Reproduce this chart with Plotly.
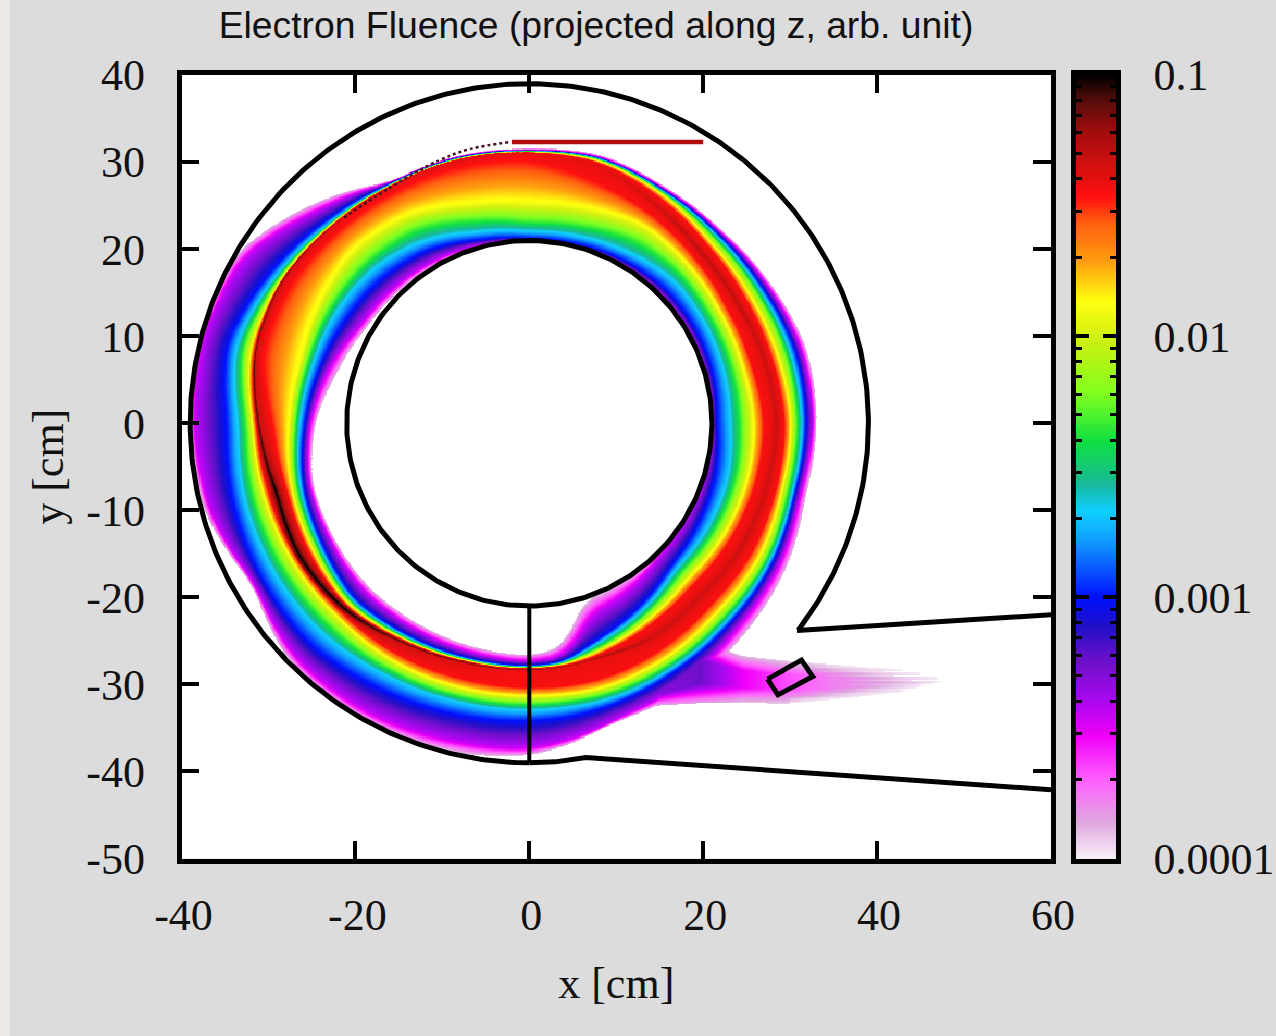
import numpy as np
import plotly.graph_objects as go

# ---------- values ----------
TITLE = "Electron Fluence (projected along z, arb. unit)"
X_TICKS = [-40, -20, 0, 20, 40, 60]
Y_TICKS = [-50, -40, -30, -20, -10, 0, 10, 20, 30, 40]
CB_TICKS = [0.0001, 0.001, 0.01, 0.1]
CB_LABELS = ["0.0001", "0.001", "0.01", "0.1"]

# colour scale: position along log10 range -> colour
CM_POS = [0.0, 0.046, 0.10, 0.156, 0.203, 0.254, 0.297, 0.333, 0.407, 0.444, 0.478, 0.533, 0.593, 0.664, 0.711, 0.76, 0.81, 0.845, 0.887, 0.929, 0.97, 1.0]
CM_COL = ["#f8f0f8", "#dfa8df", "#ff60ff", "#f000f8", "#a808f0", "#6a10c8", "#2010c8", "#0010ff", "#10a0ff",
          "#10d0ff", "#18b898", "#10e040", "#80ff20", "#d0f010", "#ffff10", "#ffa010", "#ff6010", "#ff1010",
          "#d01010", "#a00c0c", "#500c0c", "#000000"]

# radial profile of the band, per polar angle (deg): radius (cm) where each colour is reached
ANGLE = [0, 15, 30, 45, 60, 75, 90, 105, 120, 135, 150, 165, 180, 195, 210, 225, 240, 255, 270, 278, 283, 288, 300, 315, 330, 345]
IN_EDGE = [20.7, 20.7, 20.8, 20.9, 20.9, 20.9, 20.9, 21, 21.1, 21.3, 21.7, 22.8, 24.6, 25.8, 26, 26.3, 26.3, 26.4, 26.6, 25.9, 23, 21.2, 21, 20.9, 20.8, 20.7]
IN_MAG = [20.9, 20.9, 21, 21, 21, 21, 21, 21.2, 21.6, 22, 22.4, 23.9, 25.2, 26.2, 26.5, 27, 27, 27.1, 27.3, 27, 25, 23, 22.3, 21.3, 21, 20.9]
IN_BLUE = [21.5, 21.8, 21.9, 21.9, 21.6, 21.3, 21.2, 21.8, 23, 23.7, 24.2, 24.9, 25.8, 26.9, 27.5, 28.4, 28, 27.8, 27.8, 27.6, 26.6, 25.9, 24.6, 23, 22.5, 22.1]
IN_CYAN = [23, 23.1, 23.2, 23.3, 22.6, 22.2, 22, 22.7, 24.2, 25.2, 25.6, 25.8, 26.4, 27.3, 27.9, 28.8, 28.25, 27.95, 27.9, 27.75, 27, 26.3, 25.2, 23.7, 23.7, 23.6]
IN_GREEN = [24.4, 24.3, 24.3, 24.6, 24.5, 23.6, 23.2, 24.3, 26, 26.5, 26.6, 26.5, 26.9, 27.8, 28.3, 29.1, 28.45, 28.05, 28, 27.85, 27.3, 26.9, 25.8, 24.5, 24.7, 24.7]
IN_YELLOW = [25.7, 25.3, 25.3, 25.7, 26.2, 25.5, 25.2, 26, 27.7, 28.4, 27.8, 27.2, 27.6, 28.3, 28.8, 29.4, 28.6, 28.15, 28.05, 27.95, 27.6, 27.2, 26.4, 25.4, 25.7, 25.8]
IN_RED = [27, 26.4, 26.3, 26.9, 27.8, 28.8, 30.3, 30.6, 30.8, 31.2, 31.8, 31.8, 29.5, 28.9, 29.3, 29.7, 28.75, 28.25, 28.1, 28.05, 27.9, 27.6, 27, 26.4, 26.7, 26.9]
PEAK_R = [28.4, 28, 27.6, 27.8, 29, 30.6, 31, 31.2, 31.4, 32, 32.8, 32.6, 31.1, 30.1, 30.5, 30.1, 29, 28.4, 28.3, 28.2, 28.1, 28, 28.4, 27.9, 28.2, 28.2]
PEAK_HALF = [.5, .5, .5, .5, .4, .15, .05, .05, .05, .05, .1, .1, .2, .4, .45, .35, .15, .15, .1, .1, .1, .2, .5, .5, .5, .5]
PEAK_F = [.89, .89, .9, .9, .89, .87, .87, .88, .9, .95, .96, .97, .97, 1, 1, 1, .97, .95, .93, .92, .92, .92, .89, .89, .89, .89]
OUT_RED = [29.3, 28.8, 28.6, 28.9, 29.9, 31, 31.1, 31.4, 31.6, 32.15, 32.95, 32.75, 31.35, 31, 30.95, 30.6, 30.5, 30.3, 30.3, 30.4, 30.4, 30.4, 30, 29.4, 29.5, 29.3]
OUT_YELLOW = [30.1, 29.6, 29.3, 29.4, 30.4, 31.2, 31.15, 31.45, 31.65, 32.25, 33, 33.2, 31.8, 31.6, 31.5, 31.3, 31.5, 31.4, 31.3, 31.4, 31.5, 31.5, 31.2, 30.6, 30.6, 30]
OUT_GREEN = [30.7, 30.5, 30.1, 30, 30.6, 31.35, 31.2, 31.5, 31.7, 32.35, 33.3, 34, 32.4, 32.7, 32.7, 32.5, 32.4, 32.2, 32.1, 32.1, 32.2, 32.2, 31.9, 31.4, 31.3, 30.6]
OUT_CYAN = [31.3, 31.1, 30.6, 30.4, 30.75, 31.45, 31.25, 31.55, 31.75, 32.5, 33.7, 34.9, 33.5, 33.9, 34, 33.9, 33.3, 33, 32.9, 32.9, 32.9, 32.9, 32.5, 32, 31.8, 31.2]
OUT_BLUE = [31.8, 31.7, 31, 30.7, 30.9, 31.55, 31.3, 31.6, 31.8, 33, 34.5, 36, 34.8, 35.3, 35.6, 35.8, 35, 34.5, 34.2, 34, 33.8, 33.6, 33, 32.5, 32.2, 31.5]
OUT_MAG = [32.6, 32.4, 31.6, 31, 31.05, 31.65, 31.35, 31.7, 31.9, 34.5, 38, 38.7, 38.5, 38, 36.5, 38, 38, 37.5, 37.3, 36.5, 35.8, 35.2, 34.7, 33.5, 33, 32.1]
OUT_EDGE = [33, 33, 32, 31.3, 31.3, 31.9, 31.5, 31.8, 32, 35.5, 39, 39, 39, 38.7, 36.8, 38.9, 39, 38.8, 38.1, 37, 36, 35.6, 35.5, 34.6, 33.9, 32.8]
LEVEL_IN = [0.03, 0.18, 0.33, 0.44, 0.57, 0.70, 0.85]
LEVEL_OUT = [0.85, 0.70, 0.57, 0.44, 0.33, 0.18, 0.03]

# escaping beam (magenta plume on the right)
BEAM_X = [13, 19.6, 24.5, 29, 35, 42.5, 47.5]
BEAM_TOP = [-29.5, -25, -26.7, -27.2, -27.7, -28.2, -29]
BEAM_BOT = [-32.5, -32.1, -32, -32.2, -31.7, -30.9, -29.6]
BEAM_F = [0.22, 0.25, 0.16, 0.115, 0.075, 0.045, 0.02]
# where each thin streak of the plume ends, per row of y
STREAK_Y = [-27.25, -27.5, -27.75, -28, -28.25, -28.5, -28.75, -29, -29.25, -29.5, -29.75, -30, -30.25, -30.5, -30.75, -31, -31.25, -31.5, -31.75, -32]
STREAK_END = [36, 38, 41, 39, 43, 41, 45, 42, 47, 44, 49, 45, 47, 43, 45, 41, 42, 38, 36, 33]

# vessel outline (cm)
INNER_R = 21
OUTER_R = 39
OUTER_ARC_DEG = [-37.6, 270]
DIVIDER_X = [0, 0]
DIVIDER_Y = [-21, -39]
BOTTOM_X = [0, 3, 6.5, 60]
BOTTOM_Y = [-39, -38.9, -38.4, -42.1]
UPPER_X = [30.8, 60]
UPPER_Y = [-23.8, -22]
BOX_X = [27.4, 31.3, 32.6, 28.6, 27.4]
BOX_Y = [-29.4, -27.2, -29.1, -31.2, -29.4]
RED_X = [-2, 20]
RED_Y = [32.3, 32.3]
SPECK_X = [-21.3, -16.3, -10.6, -6.8, -2.2]
SPECK_Y = [23.6, 26.9, 30.1, 31.5, 32.3]

# ---------- building the field from those tables ----------
colorscale = [[p, c] for p, c in zip(CM_POS, CM_COL)]
peak_r = np.array(PEAK_R, float)
half = np.array(PEAK_HALF, float)
radii = np.array([IN_EDGE, IN_MAG, IN_BLUE, IN_CYAN, IN_GREEN, IN_YELLOW, IN_RED, peak_r - half, peak_r, peak_r + half,
                  OUT_RED, OUT_YELLOW, OUT_GREEN, OUT_CYAN, OUT_BLUE, OUT_MAG, OUT_EDGE], float)
peak = np.array(PEAK_F)
ang = np.array(ANGLE + [360.0])
radii = np.hstack([radii, radii[:, :1]])
peak = np.append(peak, peak[0])

step = 0.125
gx = np.arange(-40, 60 + step / 2, step)
gy = np.arange(-50, 40 + step / 2, step)
X, Y = np.meshgrid(gx, gy)
R = np.hypot(X, Y)
T = np.degrees(np.arctan2(Y, X)) % 360

n_t, n_r = 1440, 1280
rgrid = np.linspace(0, 40, n_r)
tgrid = np.arange(n_t) * 360 / n_t
tab = np.array([np.interp(tgrid, ang, radii[k]) for k in range(radii.shape[0])])
pk = np.interp(tgrid, ang, peak)
# round the 15-degree table corners so the band stays a smooth curve
win = 28
kernel = np.ones(win) / win
tab = np.array([np.convolve(np.r_[row[-win:], row, row[:win]], kernel, mode="same")[win:-win] for row in tab])
lut = np.full((n_t + 1, n_r), np.nan)
for i in range(n_t):
    rs = np.maximum.accumulate(tab[:, i] + np.arange(tab.shape[0]) * 1e-4)
    p = max(pk[i], 0.87)
    shoulder = 0.865 if p < 0.93 else p - 0.08
    fs = np.array(LEVEL_IN + [shoulder, p, shoulder] + LEVEL_OUT)
    lut[i] = np.interp(rgrid, rs, fs, left=np.nan, right=np.nan)
lut[n_t] = lut[0]

field = lut[np.round(T / 360 * n_t).astype(int), np.clip(np.round(R / 40 * (n_r - 1)).astype(int), 0, n_r - 1)]
field[(R < INNER_R - 0.2) | (R > OUTER_R + 0.1)] = np.nan

# plume
bt = np.interp(X, BEAM_X, BEAM_TOP)
bb = np.interp(X, BEAM_X, BEAM_BOT)
bf = np.interp(X, BEAM_X, BEAM_F)
c = (bt + bb) / 2
hw = (bt - bb) / 2
u = 1 - np.abs(Y - c) / hw
row_end = np.array(STREAK_END, float)[np.clip(np.round((Y - STREAK_Y[0]) / (STREAK_Y[1] - STREAK_Y[0])).astype(int), 0, len(STREAK_END) - 1)]
fade = np.clip((row_end - X) / 9, 0, 1)
fade = np.where(X < 30, 1.0, fade)
plume = np.where((u > 0) & (X >= BEAM_X[0]) & (fade > 0), bf * (0.2 + 0.8 * np.clip(u * 1.6, 0, 1)) * (0.25 + 0.75 * fade), np.nan)
field = np.fmax(field, plume)
Z = np.round(-4 + 3 * field, 3)

# ---------- figure ----------
W, H = 1276, 1036
PX0, PX1, PY0, PY1 = 181.5, 1051, 75, 858.5
CX0, CX1 = 1076, 1116
dom_y = [1 - PY1 / H, 1 - PY0 / H]
serif = "Liberation Serif, Times New Roman, serif"
BLACK = "#000000"
TXT = "#111111"

fig = go.Figure()
fig.add_trace(go.Heatmap(x=gx, y=gy, z=Z, zmin=-4, zmax=-1, colorscale=colorscale, showscale=False,
                         hoverongaps=False, name="Fluence"))

ai = np.radians(np.linspace(0, 360, 361))
fig.add_trace(go.Scatter(x=INNER_R * np.cos(ai), y=INNER_R * np.sin(ai), mode="lines", line=dict(color=BLACK, width=5)))
ao = np.radians(np.linspace(OUTER_ARC_DEG[0], OUTER_ARC_DEG[1], 400))
ox = list(UPPER_X[::-1]) + list(OUTER_R * np.cos(ao))
oy = list(UPPER_Y[::-1]) + list(OUTER_R * np.sin(ao))
fig.add_trace(go.Scatter(x=ox, y=oy, mode="lines", line=dict(color=BLACK, width=5)))
fig.add_trace(go.Scatter(x=BOTTOM_X, y=BOTTOM_Y, mode="lines", line=dict(color=BLACK, width=5)))
fig.add_trace(go.Scatter(x=DIVIDER_X, y=DIVIDER_Y, mode="lines", line=dict(color=BLACK, width=4)))
fig.add_trace(go.Scatter(x=BOX_X, y=BOX_Y, mode="lines", line=dict(color=BLACK, width=5)))
fig.add_trace(go.Scatter(x=RED_X, y=RED_Y, mode="lines", line=dict(color="#b00c0c", width=4.5)))
fig.add_trace(go.Scatter(x=SPECK_X, y=SPECK_Y, mode="lines", line=dict(color="#4a1020", width=2.5, dash="dot", shape="spline")))

# colour bar as its own log axis, so ticks can sit on both sides as in the reference
cb_y = np.logspace(-4, -1, 400)
fig.add_trace(go.Heatmap(x=[0, 1], y=cb_y, z=np.log10(np.column_stack([cb_y, cb_y])), zmin=-4, zmax=-1,
                         colorscale=colorscale, showscale=False, xaxis="x2", yaxis="y2", name="Scale"))

minor_vals = [m * 10.0 ** e for e in (-4, -3, -2) for m in range(2, 10)]
axis_common = dict(showgrid=False, zeroline=False, showline=True, linecolor=BLACK, linewidth=4.5, automargin=False,
                   ticks="inside", tickcolor=BLACK, tickwidth=4, ticklen=18, mirror="allticks",
                   tickfont=dict(family=serif, size=44, color=TXT))
fig.update_layout(
    width=W, height=H, margin=dict(l=0, r=0, t=0, b=0, autoexpand=False), showlegend=False,
    paper_bgcolor="#dcdcdc", plot_bgcolor="#ffffff",
    title=dict(text=TITLE, x=596 / W, xanchor="center", y=1 - 25 / H, yanchor="middle", automargin=False,
               font=dict(family="Liberation Sans, Arial, sans-serif", size=37.3, color=TXT)),
    xaxis=dict(domain=[PX0 / W, PX1 / W], range=[-40, 60], tickvals=X_TICKS, ticktext=[str(v) for v in X_TICKS],
               anchor="y", ticklabelstandoff=14, ticklabelshift=2,
               title=dict(text="x [cm]", standoff=30, font=dict(family=serif, size=44, color=TXT)), **axis_common),
    yaxis=dict(domain=dom_y, range=[-50, 40], tickvals=Y_TICKS, ticktext=[str(v) for v in Y_TICKS], anchor="x",
               ticklabelstandoff=23,
               title=dict(text="y [cm]", standoff=10, font=dict(family=serif, size=44, color=TXT)), **axis_common),
    xaxis2=dict(domain=[CX0 / W, CX1 / W], range=[0, 1], anchor="y2", showticklabels=False, showgrid=False,
                zeroline=False, showline=True, linecolor=BLACK, linewidth=4.5, mirror=True, ticks="", automargin=False),
    yaxis2=dict(domain=dom_y, type="log", range=[-4, -1], anchor="x2", side="right", automargin=False,
                tickvals=CB_TICKS, ticktext=CB_LABELS, showgrid=False, zeroline=False, showline=True,
                linecolor=BLACK, linewidth=4.5, mirror="allticks", ticks="inside", ticklen=13, tickwidth=3.5,
                tickcolor=BLACK, ticklabelstandoff=24,
                tickfont=dict(family=serif, size=44, color=TXT),
                minor=dict(ticks="inside", ticklen=6, tickwidth=3, tickcolor=BLACK, tickvals=minor_vals, showgrid=False)),
    shapes=[dict(type="rect", xref="paper", yref="paper", x0=0, x1=10 / W, y0=0, y1=1,
                 fillcolor="#ece8e4", line_width=0, layer="below")],
)
fig.write_html("out.html", config=dict(displayModeBar=False),
               post_script="document.body.style.margin='0';document.body.style.background='#dcdcdc';")
